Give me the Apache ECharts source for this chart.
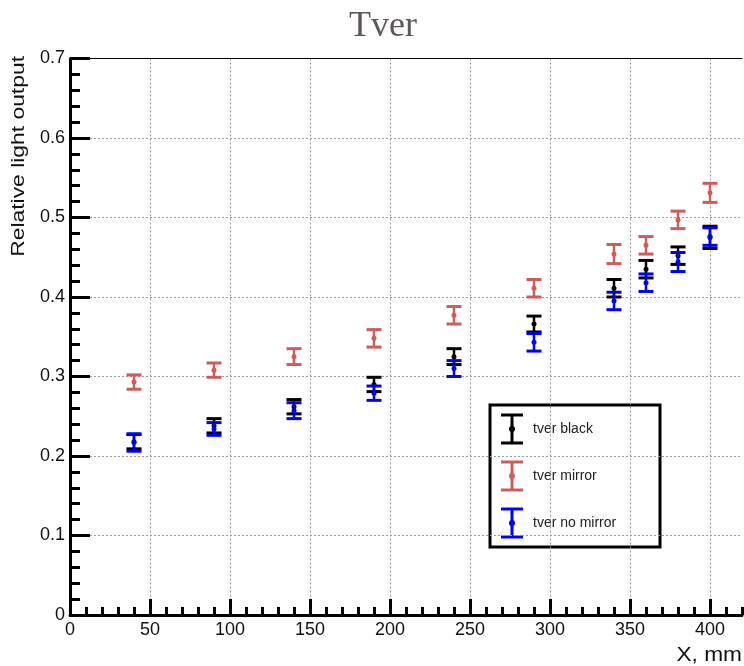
<!DOCTYPE html>
<html>
<head>
<meta charset="utf-8">
<script src="https://cdn.jsdelivr.net/npm/echarts@6/dist/echarts.min.js"></script>
<style>
  html, body { margin: 0; padding: 0; background: #fff; }
  #chart { width: 744px; height: 666px; }
</style>
</head>
<body>
<div id="chart"></div>
<script>
// Scan positions along the bar (mm)
const xPos = [40, 90, 140, 190, 240, 290, 340, 360, 380, 400];

// Relative light output and its uncertainty for each wrapping
const blackVal    = [0.218, 0.238, 0.262, 0.290, 0.325, 0.366, 0.411, 0.435, 0.452, 0.475];
const blackErr    = [0.009, 0.009, 0.009, 0.009, 0.010, 0.010, 0.011, 0.011, 0.011, 0.014];
const mirrorVal   = [0.293, 0.308, 0.325, 0.348, 0.377, 0.411, 0.454, 0.465, 0.497, 0.531];
const mirrorErr   = [0.009, 0.009, 0.010, 0.011, 0.011, 0.011, 0.012, 0.011, 0.011, 0.012];
const noMirrorVal = [0.217, 0.234, 0.257, 0.279, 0.310, 0.343, 0.395, 0.418, 0.444, 0.476];
const noMirrorErr = [0.011, 0.008, 0.010, 0.009, 0.010, 0.011, 0.011, 0.011, 0.012, 0.011];

const xMajorTicks = [0, 50, 100, 150, 200, 250, 300, 350, 400];

const seriesNames = ['tver black', 'tver mirror', 'tver no mirror'];
const seriesColors = ['#000000', '#cd5c5c', '#0000ff'];

function toData(vals, errs) {
  return xPos.map((x, i) => [x, vals[i], errs[i]]);
}

// Vertical error bar with caps and a small dot at the measured value
function errorBar(color) {
  return function (params, api) {
    const x = api.value(0), y = api.value(1), e = api.value(2);
    const c = api.coord([x, y]);
    const hi = api.coord([x, y + e]);
    const lo = api.coord([x, y - e]);
    const hw = 7.5;
    return {
      type: 'group',
      children: [
        { type: 'line', shape: { x1: c[0], y1: hi[1], x2: c[0], y2: lo[1] }, style: { stroke: color, lineWidth: 2.5 } },
        { type: 'line', shape: { x1: c[0] - hw, y1: hi[1], x2: c[0] + hw, y2: hi[1] }, style: { stroke: color, lineWidth: 3 } },
        { type: 'line', shape: { x1: c[0] - hw, y1: lo[1], x2: c[0] + hw, y2: lo[1] }, style: { stroke: color, lineWidth: 3 } },
        { type: 'circle', shape: { cx: c[0], cy: c[1], r: 2.5 }, style: { fill: color } }
      ]
    };
  };
}

// Legend box entries
function legendEntry(i, cy) {
  const color = seriesColors[i];
  const sx = 512;
  return [
    { type: 'line', shape: { x1: sx, y1: cy - 14, x2: sx, y2: cy + 14 }, style: { stroke: color, lineWidth: 3 } },
    { type: 'line', shape: { x1: sx - 11, y1: cy - 14, x2: sx + 11, y2: cy - 14 }, style: { stroke: color, lineWidth: 3 } },
    { type: 'line', shape: { x1: sx - 11, y1: cy + 14, x2: sx + 11, y2: cy + 14 }, style: { stroke: color, lineWidth: 3 } },
    { type: 'circle', shape: { cx: sx, cy: cy, r: 3 }, style: { fill: color } },
    { type: 'text', style: { x: 533, y: cy, text: seriesNames[i], fill: '#222', font: '14px "Liberation Sans", Arial, sans-serif', textVerticalAlign: 'middle' } }
  ];
}

const chart = echarts.init(document.getElementById('chart'), null, { renderer: 'canvas' });

const gridLine = { show: true, lineStyle: { color: '#9a9a9a', width: 1, type: [2, 2] } };
const tickFont = { fontFamily: '"Liberation Sans", Arial, sans-serif', fontSize: 18, color: '#111' };

chart.setOption({
  animation: false,
  backgroundColor: '#ffffff',
  title: {
    text: 'Tver',
    left: 344,
    top: 4,
    textStyle: { fontFamily: '"Liberation Serif", "Times New Roman", serif', fontSize: 36, fontWeight: 'normal', color: '#5e5858' }
  },
  grid: { left: 70, right: 2, top: 58.5, bottom: 51, containLabel: false },
  xAxis: [
    {
      type: 'value', min: 0, max: 420, interval: 50, position: 'bottom',
      axisLine: { show: true, onZero: false, lineStyle: { color: '#000', width: 3 } },
      axisTick: { show: true, inside: true, length: 16, customValues: xMajorTicks, lineStyle: { color: '#000', width: 3 } },
      axisLabel: Object.assign({ margin: 6, customValues: xMajorTicks }, tickFont),
      splitLine: gridLine
    },
    {
      type: 'value', min: 0, max: 420, interval: 10, position: 'bottom',
      axisLine: { show: false },
      axisTick: { show: true, inside: true, length: 8, lineStyle: { color: '#000', width: 3 } },
      axisLabel: { show: false },
      splitLine: { show: false }
    },
    {
      type: 'value', min: 0, max: 420, position: 'top',
      axisLine: { show: true, onZero: false, lineStyle: { color: '#000', width: 1 } },
      axisTick: { show: false }, axisLabel: { show: false }, splitLine: { show: false }
    }
  ],
  yAxis: {
    type: 'value', min: 0, max: 0.7, interval: 0.1,
    axisLine: { show: true, onZero: false, lineStyle: { color: '#000', width: 3 } },
    axisTick: { show: true, inside: true, length: 20, lineStyle: { color: '#000', width: 3 } },
    minorTick: { show: true, splitNumber: 5, length: 10, lineStyle: { color: '#000', width: 3 } },
    axisLabel: Object.assign({ margin: 5 }, tickFont),
    splitLine: gridLine
  },
  graphic: [
    {
      type: 'text', x: 19, y: 56, rotation: Math.PI / 2, scaleX: 1.27,
      style: { text: 'Relative light output', fill: '#111', font: '18px "Liberation Sans", Arial, sans-serif', textAlign: 'right', textVerticalAlign: 'middle' }
    },
    {
      type: 'text', x: 742, y: 655, scaleX: 1.08,
      style: { text: 'X, mm', fill: '#111', font: '21px "Liberation Sans", Arial, sans-serif', textAlign: 'right', textVerticalAlign: 'middle' }
    },
    {
      type: 'group', z: 100,
      children: [
        { type: 'rect', shape: { x: 490, y: 405, width: 170, height: 142 }, style: { fill: '#fff', stroke: '#000', lineWidth: 3 } }
      ].concat(legendEntry(0, 429), legendEntry(1, 476), legendEntry(2, 523))
    }
  ],
  series: [
    { name: seriesNames[0], type: 'custom', xAxisIndex: 0, renderItem: errorBar(seriesColors[0]), data: toData(blackVal, blackErr), encode: { x: 0, y: 1 }, z: 3 },
    { name: seriesNames[1], type: 'custom', xAxisIndex: 0, renderItem: errorBar(seriesColors[1]), data: toData(mirrorVal, mirrorErr), encode: { x: 0, y: 1 }, z: 4 },
    { name: seriesNames[2], type: 'custom', xAxisIndex: 0, renderItem: errorBar(seriesColors[2]), data: toData(noMirrorVal, noMirrorErr), encode: { x: 0, y: 1 }, z: 5 }
  ]
});
</script>
</body>
</html>
